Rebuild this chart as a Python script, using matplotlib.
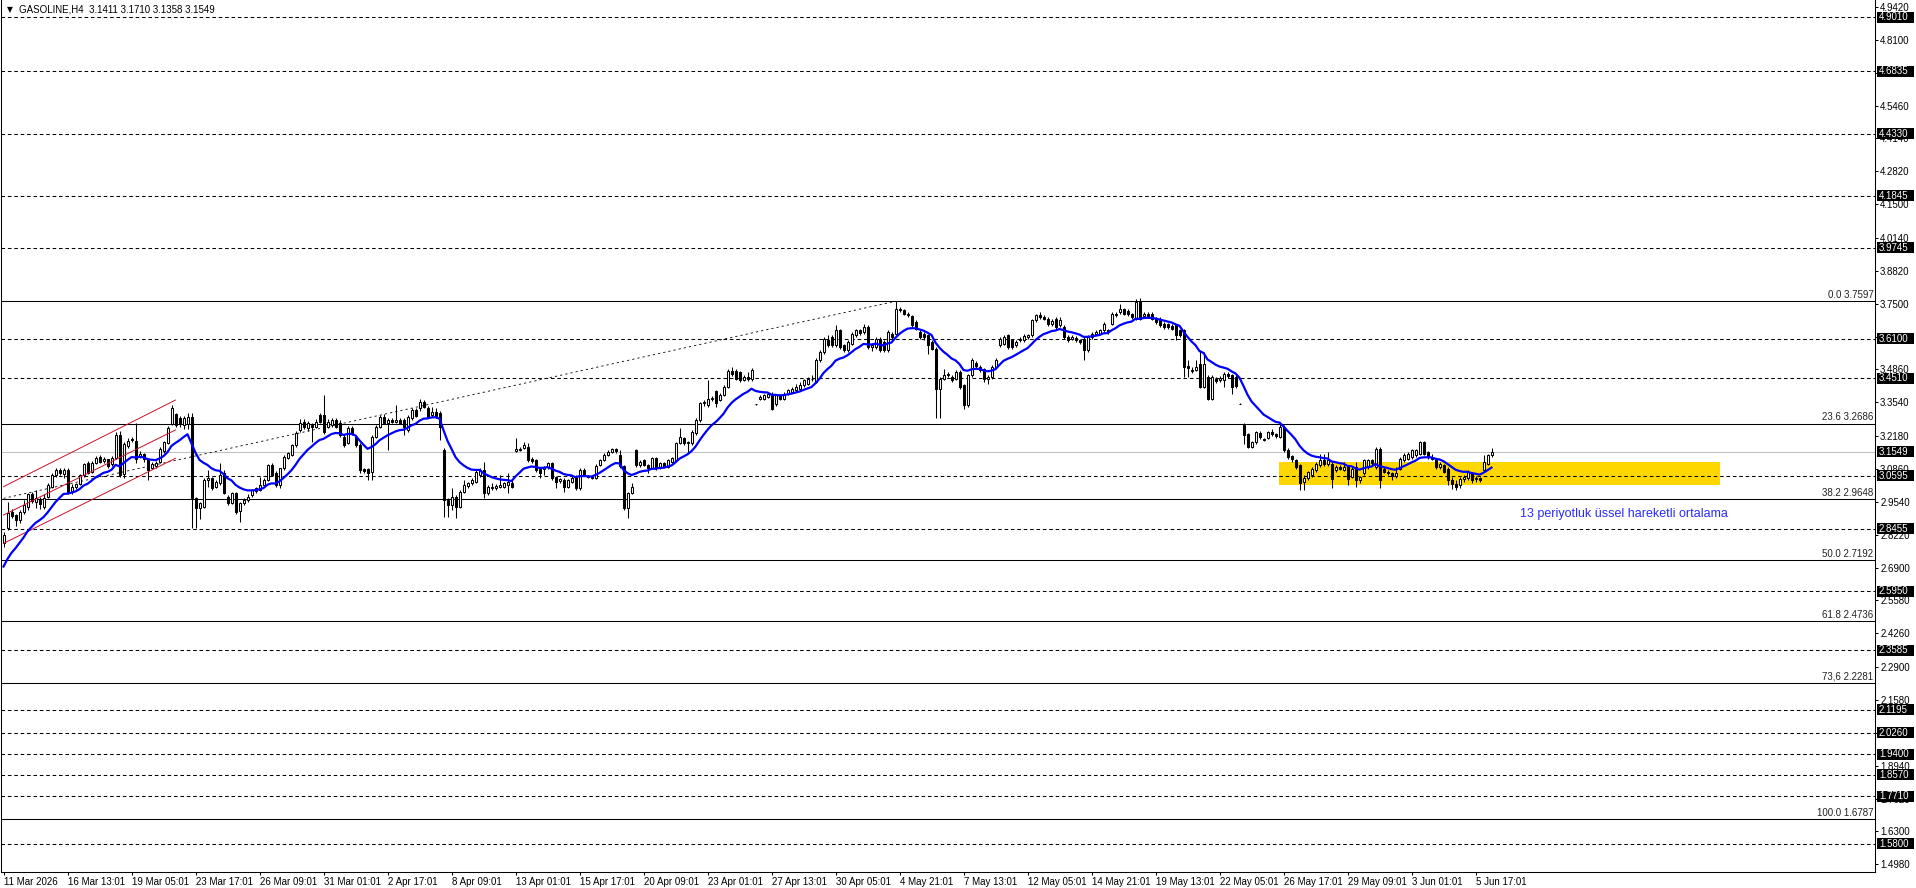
import matplotlib
matplotlib.use("Agg")
import matplotlib.pyplot as plt
from matplotlib.transforms import blended_transform_factory
from matplotlib.patches import Rectangle
import numpy as np

plt.rcParams['font.family'] = ['Liberation Sans', 'DejaVu Sans']
plt.rcParams['lines.scale_dashes'] = False

symbol_title = "GASOLINE,H4"

opens = [
    2.787, 2.848, 2.912, 2.900, 2.881, 2.912, 2.935, 2.985, 2.955, 2.960,
    2.935, 2.975, 3.015, 3.062, 3.082, 3.065, 3.082, 2.998, 3.012, 3.025,
    3.060, 3.112, 3.075, 3.112, 3.135, 3.118, 3.125, 3.105, 3.132, 3.222,
    3.065, 3.180, 3.205, 3.200, 3.138, 3.145, 3.122, 3.092, 3.100, 3.115,
    3.160, 3.190, 3.268, 3.305, 3.290, 3.262, 3.265, 3.296, 2.968, 2.928,
    2.935, 3.042, 3.048, 3.015, 3.028, 3.068, 2.975, 2.950, 2.990, 2.918,
    2.950, 2.962, 2.980, 2.998, 3.002, 3.022, 3.042, 3.102, 3.070, 3.022,
    3.089, 3.130, 3.142, 3.182, 3.243, 3.276, 3.250, 3.262, 3.256, 3.303,
    3.303, 3.256, 3.263, 3.283, 3.270, 3.216, 3.190, 3.250, 3.216, 3.182,
    3.085, 3.085, 3.075, 3.216, 3.256, 3.296, 3.270, 3.283, 3.276, 3.283,
    3.283, 3.243, 3.290, 3.323, 3.330, 3.357, 3.330, 3.303, 3.316, 3.310,
    3.162, 2.962, 2.941, 2.975, 2.935, 2.995, 3.018, 3.028, 3.035, 3.062,
    3.082, 2.988, 3.015, 3.008, 3.015, 3.015, 3.022, 3.028, 3.160, 3.168,
    3.169, 3.176, 3.125, 3.122, 3.085, 3.085, 3.093, 3.109, 3.052, 3.038,
    3.042, 3.015, 3.035, 3.055, 3.008, 3.082, 3.058, 3.052, 3.049, 3.102,
    3.122, 3.142, 3.156, 3.165, 3.142, 3.098, 2.928, 2.991, 3.162, 3.102,
    3.122, 3.102, 3.089, 3.129, 3.089, 3.109, 3.095, 3.116, 3.122, 3.189,
    3.209, 3.189, 3.189, 3.229, 3.283, 3.350, 3.343, 3.366, 3.400, 3.365,
    3.383, 3.416, 3.480, 3.480, 3.476, 3.443, 3.456, 3.446, 3.347, 3.369,
    3.369, 3.376, 3.389, 3.346, 3.382, 3.369, 3.389, 3.396, 3.402, 3.409,
    3.423, 3.429, 3.446, 3.436, 3.523, 3.556, 3.603, 3.617, 3.583, 3.643,
    3.583, 3.563, 3.590, 3.623, 3.643, 3.637, 3.657, 3.576, 3.576, 3.610,
    3.596, 3.563, 3.630, 3.630, 3.730, 3.724, 3.710, 3.700, 3.677, 3.637,
    3.630, 3.623, 3.596, 3.570, 3.409, 3.449, 3.463, 3.456, 3.449, 3.476,
    3.423, 3.342, 3.463, 3.510, 3.496, 3.486, 3.449, 3.456, 3.496, 3.583,
    3.590, 3.623, 3.603, 3.583, 3.603, 3.603, 3.615, 3.623, 3.683, 3.704,
    3.697, 3.690, 3.670, 3.690, 3.663, 3.657, 3.617, 3.610, 3.612, 3.603,
    3.610, 3.563, 3.617, 3.630, 3.630, 3.643, 3.643, 3.670, 3.710, 3.717,
    3.727, 3.720, 3.707, 3.690, 3.757, 3.700, 3.710, 3.710, 3.690, 3.690,
    3.670, 3.667, 3.660, 3.663, 3.643, 3.643, 3.499, 3.480, 3.485, 3.509,
    3.416, 3.456, 3.369, 3.449, 3.443, 3.443, 3.466, 3.463, 3.456, 3.349,
    3.262, 3.226, 3.175, 3.195, 3.231, 3.208, 3.210, 3.235, 3.226, 3.215,
    3.255, 3.164, 3.138, 3.121, 3.101, 3.035, 3.050, 3.062, 3.081, 3.101,
    3.121, 3.108, 3.108, 3.081, 3.095, 3.084, 3.095, 3.055, 3.095, 3.041,
    3.068, 3.095, 3.121, 3.095, 3.168, 3.088, 3.075, 3.068, 3.058, 3.088,
    3.121, 3.128, 3.135, 3.142, 3.148, 3.195, 3.155, 3.135, 3.121, 3.095,
    3.101, 3.088, 3.041, 3.025, 3.020, 3.045, 3.048, 3.068, 3.045, 3.048,
    3.081, 3.108, 3.1411,
]

highs = [
    2.834, 2.955, 2.925, 2.905, 2.920, 2.960, 2.990, 2.995, 3.000, 2.975,
    2.985, 3.030, 3.070, 3.090, 3.092, 3.090, 3.090, 3.025, 3.030, 3.065,
    3.112, 3.120, 3.118, 3.140, 3.142, 3.135, 3.128, 3.140, 3.235, 3.240,
    3.195, 3.210, 3.215, 3.270, 3.160, 3.150, 3.128, 3.115, 3.120, 3.175,
    3.200, 3.258, 3.345, 3.310, 3.300, 3.300, 3.310, 3.310, 2.975, 2.955,
    3.050, 3.082, 3.055, 3.040, 3.110, 3.080, 2.980, 2.995, 2.995, 2.955,
    2.968, 2.985, 3.005, 3.015, 3.055, 3.048, 3.108, 3.110, 3.078, 3.092,
    3.142, 3.155, 3.188, 3.240, 3.285, 3.285, 3.280, 3.270, 3.285, 3.310,
    3.383, 3.285, 3.290, 3.292, 3.282, 3.225, 3.258, 3.258, 3.222, 3.189,
    3.092, 3.092, 3.222, 3.262, 3.303, 3.305, 3.290, 3.290, 3.343, 3.290,
    3.290, 3.303, 3.330, 3.330, 3.367, 3.365, 3.340, 3.337, 3.330, 3.320,
    3.170, 2.968, 3.008, 2.980, 3.000, 3.042, 3.035, 3.050, 3.082, 3.090,
    3.116, 3.022, 3.030, 3.025, 3.062, 3.035, 3.069, 3.040, 3.209, 3.175,
    3.196, 3.190, 3.135, 3.128, 3.092, 3.098, 3.115, 3.115, 3.058, 3.050,
    3.048, 3.045, 3.058, 3.062, 3.089, 3.089, 3.062, 3.058, 3.105, 3.128,
    3.150, 3.162, 3.172, 3.172, 3.162, 3.102, 2.995, 3.028, 3.165, 3.122,
    3.128, 3.105, 3.135, 3.135, 3.115, 3.115, 3.128, 3.135, 3.196, 3.250,
    3.216, 3.200, 3.243, 3.290, 3.357, 3.365, 3.444, 3.378, 3.405, 3.392,
    3.422, 3.486, 3.496, 3.486, 3.480, 3.462, 3.476, 3.490, 3.348, 3.382,
    3.389, 3.396, 3.396, 3.389, 3.389, 3.396, 3.409, 3.416, 3.429, 3.436,
    3.449, 3.456, 3.463, 3.530, 3.563, 3.617, 3.623, 3.623, 3.663, 3.650,
    3.590, 3.603, 3.637, 3.650, 3.650, 3.670, 3.663, 3.590, 3.617, 3.617,
    3.603, 3.643, 3.637, 3.760, 3.737, 3.730, 3.717, 3.704, 3.683, 3.643,
    3.637, 3.630, 3.603, 3.576, 3.456, 3.489, 3.476, 3.463, 3.483, 3.483,
    3.429, 3.469, 3.530, 3.520, 3.503, 3.490, 3.463, 3.503, 3.530, 3.617,
    3.623, 3.630, 3.610, 3.603, 3.617, 3.627, 3.630, 3.690, 3.710, 3.717,
    3.704, 3.697, 3.687, 3.697, 3.697, 3.663, 3.623, 3.623, 3.620, 3.610,
    3.617, 3.623, 3.637, 3.643, 3.650, 3.677, 3.650, 3.717, 3.717, 3.750,
    3.734, 3.727, 3.714, 3.770, 3.774, 3.717, 3.717, 3.717, 3.697, 3.697,
    3.677, 3.673, 3.670, 3.670, 3.650, 3.650, 3.523, 3.496, 3.523, 3.563,
    3.556, 3.463, 3.463, 3.456, 3.460, 3.476, 3.476, 3.469, 3.463, 3.350,
    3.269, 3.230, 3.200, 3.240, 3.238, 3.212, 3.240, 3.245, 3.232, 3.275,
    3.262, 3.170, 3.142, 3.125, 3.105, 3.062, 3.078, 3.095, 3.115, 3.148,
    3.148, 3.155, 3.115, 3.101, 3.101, 3.115, 3.101, 3.095, 3.115, 3.058,
    3.128, 3.128, 3.128, 3.175, 3.175, 3.095, 3.084, 3.075, 3.095, 3.135,
    3.150, 3.155, 3.168, 3.168, 3.200, 3.200, 3.160, 3.148, 3.128, 3.115,
    3.108, 3.095, 3.055, 3.040, 3.055, 3.062, 3.081, 3.075, 3.058, 3.055,
    3.142, 3.148, 3.1710,
]

lows = [
    2.774, 2.841, 2.890, 2.855, 2.870, 2.905, 2.920, 2.950, 2.930, 2.925,
    2.925, 2.970, 3.010, 3.055, 3.060, 3.050, 2.985, 2.985, 3.005, 3.020,
    3.055, 3.065, 3.068, 3.108, 3.110, 3.112, 3.092, 3.100, 3.128, 3.055,
    3.050, 3.170, 3.195, 3.110, 3.130, 3.115, 3.040, 3.085, 3.090, 3.110,
    3.150, 3.185, 3.262, 3.255, 3.255, 3.245, 3.245, 2.848, 2.848, 2.885,
    2.930, 3.015, 3.000, 3.010, 3.020, 2.985, 2.940, 2.945, 2.905, 2.875,
    2.940, 2.955, 2.975, 2.990, 2.998, 3.015, 3.038, 3.058, 3.015, 3.010,
    3.080, 3.125, 3.138, 3.176, 3.236, 3.245, 3.240, 3.196, 3.250, 3.270,
    3.225, 3.250, 3.255, 3.250, 3.215, 3.175, 3.185, 3.222, 3.175, 3.070,
    3.068, 3.040, 3.040, 3.210, 3.250, 3.265, 3.162, 3.270, 3.270, 3.265,
    3.223, 3.236, 3.283, 3.295, 3.320, 3.330, 3.290, 3.296, 3.290, 3.203,
    2.895, 2.895, 2.921, 2.888, 2.930, 2.990, 3.010, 3.022, 3.030, 3.055,
    2.968, 2.982, 3.000, 3.002, 3.010, 3.010, 2.988, 3.010, 3.155, 3.158,
    3.165, 3.115, 3.112, 3.075, 3.049, 3.062, 3.088, 3.042, 3.008, 3.030,
    2.992, 3.010, 3.030, 3.002, 3.000, 3.058, 3.048, 3.045, 3.045, 3.098,
    3.118, 3.138, 3.150, 3.152, 3.092, 2.921, 2.888, 2.985, 3.095, 3.095,
    3.098, 3.069, 3.085, 3.082, 3.085, 3.090, 3.090, 3.110, 3.118, 3.185,
    3.182, 3.156, 3.182, 3.223, 3.276, 3.340, 3.335, 3.360, 3.335, 3.358,
    3.378, 3.410, 3.460, 3.443, 3.436, 3.438, 3.440, 3.440, 3.345, 3.362,
    3.362, 3.370, 3.322, 3.340, 3.362, 3.362, 3.382, 3.390, 3.396, 3.402,
    3.416, 3.423, 3.440, 3.430, 3.516, 3.550, 3.576, 3.576, 3.576, 3.570,
    3.556, 3.556, 3.583, 3.617, 3.625, 3.630, 3.570, 3.560, 3.570, 3.556,
    3.556, 3.556, 3.610, 3.623, 3.717, 3.704, 3.697, 3.657, 3.643, 3.610,
    3.605, 3.550, 3.563, 3.289, 3.289, 3.443, 3.456, 3.436, 3.443, 3.409,
    3.329, 3.336, 3.456, 3.490, 3.476, 3.436, 3.429, 3.449, 3.490, 3.576,
    3.583, 3.570, 3.570, 3.576, 3.596, 3.596, 3.610, 3.617, 3.677, 3.690,
    3.683, 3.660, 3.660, 3.650, 3.657, 3.610, 3.597, 3.603, 3.597, 3.590,
    3.523, 3.556, 3.610, 3.623, 3.625, 3.637, 3.630, 3.663, 3.697, 3.710,
    3.704, 3.700, 3.690, 3.683, 3.683, 3.697, 3.693, 3.683, 3.670, 3.657,
    3.650, 3.650, 3.643, 3.603, 3.615, 3.456, 3.456, 3.470, 3.480, 3.410,
    3.410, 3.362, 3.362, 3.430, 3.436, 3.416, 3.452, 3.389, 3.412, 3.347,
    3.188, 3.170, 3.170, 3.188, 3.208, 3.198, 3.205, 3.220, 3.212, 3.210,
    3.155, 3.128, 3.115, 3.088, 3.000, 3.000, 3.040, 3.055, 3.075, 3.095,
    3.100, 3.100, 3.010, 3.075, 3.080, 3.078, 3.020, 3.048, 3.015, 3.030,
    3.061, 3.088, 3.100, 3.088, 3.010, 3.068, 3.060, 3.040, 3.050, 3.081,
    3.115, 3.121, 3.128, 3.135, 3.142, 3.142, 3.128, 3.121, 3.088, 3.088,
    3.068, 3.020, 3.005, 3.000, 3.010, 3.035, 3.040, 3.030, 3.035, 3.035,
    3.075, 3.101, 3.1358,
]

closes = [
    2.821, 2.908, 2.897, 2.880, 2.915, 2.940, 2.985, 2.958, 2.968, 2.945,
    2.968, 3.020, 3.060, 3.080, 3.070, 3.080, 2.995, 3.015, 3.025, 3.060,
    3.105, 3.070, 3.112, 3.132, 3.115, 3.128, 3.098, 3.132, 3.222, 3.062,
    3.185, 3.200, 3.202, 3.125, 3.148, 3.125, 3.080, 3.108, 3.112, 3.168,
    3.195, 3.250, 3.330, 3.262, 3.265, 3.290, 3.295, 2.968, 2.928, 2.948,
    3.042, 3.050, 3.008, 3.035, 3.062, 2.990, 2.948, 2.988, 2.915, 2.948,
    2.960, 2.975, 3.000, 3.008, 3.022, 3.042, 3.102, 3.062, 3.022, 3.089,
    3.136, 3.149, 3.182, 3.229, 3.270, 3.256, 3.270, 3.255, 3.276, 3.276,
    3.236, 3.276, 3.283, 3.256, 3.223, 3.182, 3.250, 3.229, 3.182, 3.082,
    3.078, 3.070, 3.216, 3.256, 3.296, 3.270, 3.283, 3.276, 3.283, 3.272,
    3.256, 3.296, 3.323, 3.300, 3.357, 3.337, 3.296, 3.316, 3.300, 3.256,
    2.962, 2.941, 2.975, 2.935, 2.995, 3.022, 3.028, 3.042, 3.075, 3.082,
    2.988, 3.015, 3.008, 3.018, 3.022, 3.028, 3.035, 3.015, 3.168, 3.162,
    3.182, 3.122, 3.120, 3.082, 3.069, 3.093, 3.109, 3.049, 3.035, 3.044,
    3.015, 3.040, 3.049, 3.008, 3.082, 3.062, 3.052, 3.049, 3.098, 3.122,
    3.142, 3.156, 3.165, 3.158, 3.098, 2.928, 2.991, 3.015, 3.102, 3.116,
    3.102, 3.089, 3.129, 3.089, 3.109, 3.095, 3.122, 3.129, 3.189, 3.216,
    3.189, 3.196, 3.236, 3.283, 3.350, 3.357, 3.366, 3.370, 3.350, 3.385,
    3.416, 3.480, 3.466, 3.449, 3.443, 3.456, 3.446, 3.483, 3.346, 3.376,
    3.382, 3.389, 3.329, 3.382, 3.369, 3.389, 3.402, 3.409, 3.416, 3.423,
    3.443, 3.446, 3.449, 3.523, 3.556, 3.610, 3.583, 3.583, 3.643, 3.576,
    3.563, 3.596, 3.630, 3.643, 3.632, 3.657, 3.576, 3.583, 3.610, 3.563,
    3.563, 3.637, 3.617, 3.730, 3.724, 3.710, 3.704, 3.663, 3.650, 3.617,
    3.615, 3.583, 3.570, 3.409, 3.449, 3.463, 3.469, 3.443, 3.476, 3.416,
    3.342, 3.463, 3.523, 3.500, 3.483, 3.449, 3.456, 3.496, 3.523, 3.610,
    3.617, 3.576, 3.576, 3.596, 3.610, 3.620, 3.623, 3.683, 3.704, 3.697,
    3.690, 3.667, 3.680, 3.657, 3.685, 3.617, 3.605, 3.617, 3.605, 3.596,
    3.563, 3.617, 3.630, 3.637, 3.643, 3.670, 3.637, 3.710, 3.704, 3.730,
    3.710, 3.707, 3.697, 3.757, 3.690, 3.710, 3.700, 3.690, 3.677, 3.663,
    3.657, 3.657, 3.650, 3.623, 3.625, 3.496, 3.493, 3.485, 3.496, 3.416,
    3.509, 3.369, 3.456, 3.440, 3.452, 3.469, 3.460, 3.416, 3.419, 3.348,
    3.222, 3.175, 3.195, 3.235, 3.215, 3.202, 3.235, 3.226, 3.218, 3.255,
    3.162, 3.135, 3.125, 3.095, 3.030, 3.050, 3.072, 3.088, 3.108, 3.121,
    3.108, 3.121, 3.045, 3.095, 3.085, 3.095, 3.045, 3.088, 3.040, 3.052,
    3.121, 3.121, 3.110, 3.168, 3.041, 3.075, 3.068, 3.058, 3.068, 3.128,
    3.142, 3.148, 3.162, 3.162, 3.195, 3.148, 3.135, 3.128, 3.095, 3.108,
    3.075, 3.041, 3.025, 3.015, 3.045, 3.055, 3.075, 3.041, 3.050, 3.042,
    3.115, 3.142, 3.1549,
]

time_labels = [
    "11 Mar 2026", "16 Mar 13:01", "19 Mar 05:01", "23 Mar 17:01", "26 Mar 09:01",
    "31 Mar 01:01", "2 Apr 17:01", "8 Apr 09:01", "13 Apr 01:01", "15 Apr 17:01",
    "20 Apr 09:01", "23 Apr 01:01", "27 Apr 13:01", "30 Apr 05:01", "4 May 21:01",
    "7 May 13:01", "12 May 05:01", "14 May 21:01", "19 May 13:01", "22 May 05:01",
    "26 May 17:01", "29 May 09:01", "3 Jun 01:01", "5 Jun 17:01",
]
bars_per_label = 16

level_prices = [4.9010, 4.6835, 4.4330, 4.1845, 3.9745, 3.6100, 3.4510, 3.0595,
                2.8455, 2.5950, 2.3585, 2.1195, 2.0260, 1.9400, 1.8570, 1.7710, 1.5800]
fib_names = ["0.0", "23.6", "38.2", "50.0", "61.8", "73,6", "100.0"]
fib_prices = [3.7597, 3.2686, 2.9648, 2.7192, 2.4736, 2.2281, 1.6787]
bid_price = 3.1549
axis_ticks = [4.942, 4.810, 4.678, 4.546, 4.414, 4.282, 4.150, 4.014, 3.882, 3.750,
              3.618, 3.486, 3.354, 3.218, 3.086, 2.954, 2.822, 2.690, 2.558, 2.426,
              2.290, 2.158, 2.026, 1.894, 1.762, 1.630, 1.498]

ema_period = 13
ema_first = 2.694

channel_bars = [0, 43]
channel_upper = [3.015, 3.363]
channel_middle = [2.901, 3.243]
channel_lower = [2.787, 3.129]

trend_bars = [0, 223]
trend_prices = [2.968, 3.760]

zone_bars = [318.8, 429.0]
zone_prices = [3.022, 3.113]

note_text = "13 periyotluk üssel hareketli ortalama"
note_bar = 379
note_price = 2.905

# ---------------------------------------------------------------- figure
W, H = 1916, 888
PX_PER_BAR = 4.0
PX_PER_PRICE = 248.9
fig = plt.figure(figsize=(W / 100, H / 100), dpi=100)
fig.patch.set_facecolor('white')
ax_left_px, ax_right_px, ax_bottom_px = 1, 1875, 872
ax = fig.add_axes([ax_left_px / W, (H - ax_bottom_px) / H,
                   (ax_right_px - ax_left_px) / W, ax_bottom_px / H])
ax.set_facecolor('white')
x0 = -0.625
ax.set_xlim(x0, x0 + (ax_right_px - ax_left_px) / PX_PER_BAR)
y_ref, y_ref_px = 2.7192, 560.3
ax.set_ylim(y_ref - (ax_bottom_px - y_ref_px) / PX_PER_PRICE, y_ref + y_ref_px / PX_PER_PRICE)

o = np.array(opens); h = np.array(highs); l = np.array(lows); c = np.array(closes)
n = min(len(o), len(h), len(l), len(c))
o, h, l, c = o[:n], h[:n], l[:n], c[:n]
idx = np.arange(n)

# zone
ax.add_patch(Rectangle((zone_bars[0], zone_prices[0]), zone_bars[1] - zone_bars[0],
                       zone_prices[1] - zone_prices[0], facecolor='#FFD700',
                       edgecolor='none', zorder=1))

lw1 = 0.75
for p in level_prices:
    ax.axhline(p, color='black', lw=lw1, ls=(0, (2.6, 2.0)), zorder=2)
for p in fib_prices:
    ax.axhline(p, color='black', lw=lw1, zorder=2)
ax.axhline(bid_price, color='#c0c0c0', lw=lw1, zorder=2)

# trend line
ax.plot(trend_bars, trend_prices, color='black', lw=0.6, ls=(0, (1.6, 2.2)), zorder=2)

# candles
ax.vlines(idx, l, h, color='black', lw=lw1, zorder=3)
up = c >= o
bot = np.minimum(o, c)
hgt = np.abs(c - o)
ax.bar(idx[up], hgt[up], bottom=bot[up], width=0.5, facecolor='white',
       edgecolor='black', linewidth=lw1, zorder=4)
ax.bar(idx[~up], hgt[~up], bottom=bot[~up], width=0.5, facecolor='black',
       edgecolor='black', linewidth=lw1, zorder=4)

# EMA
k = 2.0 / (ema_period + 1)
ema = [ema_first]
for v in c[1:]:
    ema.append(ema[-1] + k * (v - ema[-1]))
ax.plot(idx, ema, color='#0000FF', lw=1.6, zorder=6, solid_joinstyle='round')

# regression channel
for line in (channel_upper, channel_middle, channel_lower):
    ax.plot(channel_bars, line, color='#C8102E', lw=0.7, zorder=5)

# fib labels
tr = blended_transform_factory(ax.transAxes, ax.transData)
axw = ax_right_px - ax_left_px
for name, p in zip(fib_names, fib_prices):
    ax.text(1 - 1.5 / axw, p + 1.5 / PX_PER_PRICE, f"{name} {p:.4f}", transform=tr,
            ha='right', va='bottom', fontsize=7, color='#222222', zorder=7)

# note
ax.text(note_bar, note_price, note_text, color='#2a2aff', fontsize=9,
        ha='left', va='center', zorder=7)

# axes styling
ax.spines['top'].set_visible(False)
for s in ('left', 'right', 'bottom'):
    ax.spines[s].set_color('black')
    ax.spines[s].set_linewidth(lw1)

ax.set_yticks(axis_ticks)
ax.set_yticklabels([f"{v:.4f}" for v in axis_ticks])
ax.tick_params(axis='y', left=False, right=True, labelleft=False, labelright=True,
               length=2.2, width=lw1, pad=1.5, labelsize=7, direction='out')
tick_bars = [i * bars_per_label for i in range(len(time_labels))]
ax.set_xticks(tick_bars)
ax.set_xticklabels(time_labels)
ax.tick_params(axis='x', length=2.2, width=lw1, pad=1.5, labelsize=7, direction='out')
for lb in ax.get_xticklabels():
    lb.set_horizontalalignment('left')

# price boxes
box_h = 11 / PX_PER_PRICE
for p in level_prices + [bid_price]:
    ax.add_patch(Rectangle(((1877 - ax_left_px) / axw, p - box_h / 2), 37 / axw, box_h,
                           transform=tr, facecolor='black', edgecolor='none',
                           clip_on=False, zorder=10))
    ax.text((1879 - ax_left_px) / axw, p, f"{p:.4f}", transform=tr, color='white',
            fontsize=7, ha='left', va='center', clip_on=False, zorder=11)

# header
fig.text(7 / W, 1 - 10 / H, "▼", fontsize=5.5, va='center', ha='left',
         family=['DejaVu Sans'])
fig.text(19 / W, 1 - 10 / H,
         f"{symbol_title}  {o[-1]:.4f} {h[-1]:.4f} {l[-1]:.4f} {c[-1]:.4f}",
         fontsize=7, va='center', ha='left')

fig.savefig("out.png", dpi=100)
